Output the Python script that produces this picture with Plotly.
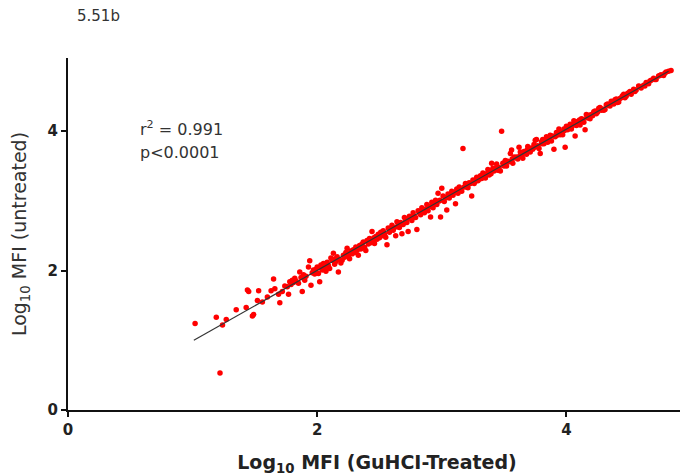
import plotly.graph_objects as go

# ---- data ----
low_x = [1.02, 1.19, 1.22, 1.24, 1.27, 1.35, 1.43, 1.44, 1.45, 1.48, 1.49,
         1.52, 1.53, 1.56, 1.60, 1.63, 1.65, 1.66, 1.69, 1.70, 1.72,
         1.74, 1.76, 1.77, 1.78, 1.79, 1.80, 1.81, 1.82, 1.83, 1.85,
         1.86, 1.87, 1.88, 1.89, 1.90, 1.91, 1.93, 1.94, 1.95, 1.96,
         1.97, 1.98, 1.99]
low_y = [1.24, 1.33, 0.53, 1.22, 1.30, 1.44, 1.47, 1.72, 1.70, 1.35, 1.37,
         1.57, 1.71, 1.55, 1.62, 1.71, 1.88, 1.74, 1.66, 1.54, 1.70,
         1.78, 1.77, 1.66, 1.84, 1.80, 1.86, 1.83, 1.89, 1.85, 1.82,
         1.98, 1.90, 1.70, 1.94, 1.86, 1.92, 2.05, 2.14, 1.79, 1.97,
         2.01, 1.95, 2.02]

mid_x = [2.00, 2.01, 2.02, 2.03, 2.04, 2.05, 2.06, 2.07, 2.08, 2.09,
         2.10, 2.11, 2.12, 2.13, 2.14, 2.15, 2.16, 2.17, 2.18, 2.19,
         2.20, 2.21, 2.22, 2.23, 2.24, 2.25, 2.26, 2.27, 2.28, 2.29,
         2.30, 2.31, 2.32, 2.33, 2.34, 2.35, 2.36, 2.37, 2.38, 2.39,
         2.40, 2.41, 2.42, 2.43, 2.44, 2.45, 2.46, 2.47, 2.48, 2.49,
         2.50, 2.51, 2.52, 2.53, 2.54, 2.55, 2.56, 2.57, 2.58, 2.59,
         2.60, 2.61, 2.62, 2.63, 2.64, 2.65, 2.66, 2.67, 2.68, 2.69,
         2.70, 2.71, 2.72, 2.73, 2.74, 2.75, 2.76, 2.77, 2.78, 2.79,
         2.80, 2.81, 2.82, 2.83, 2.84, 2.85, 2.86, 2.87, 2.88, 2.89,
         2.90, 2.91, 2.92, 2.93, 2.94, 2.95, 2.96, 2.97, 2.98, 2.99,
         3.00, 3.01, 3.02, 3.03, 3.04, 3.05, 3.06, 3.07, 3.08, 3.09,
         3.10, 3.11, 3.12, 3.13, 3.14, 3.15, 3.16, 3.17, 3.18, 3.19,
         3.20, 3.21, 3.22, 3.23, 3.24, 3.25, 3.26, 3.27, 3.28, 3.29,
         3.30,
         2.035, 2.075, 2.145, 2.265, 2.355, 2.455, 2.585, 2.645, 2.715,
         2.765, 2.835, 2.875, 2.925, 2.985, 3.045, 3.135, 3.215, 3.285]
mid_y = [2.05, 1.96, 1.84, 2.08, 2.01, 2.10, 2.05, 1.99, 2.12, 2.07,
         2.03, 2.18, 2.15, 2.25, 2.09, 2.13, 2.20, 1.98, 2.16, 2.11,
         2.15, 2.22, 2.19, 2.26, 2.32, 2.21, 2.17, 2.28, 2.24, 2.30,
         2.26, 2.34, 2.29, 2.22, 2.36, 2.31, 2.38, 2.41, 2.33, 2.29,
         2.43, 2.38, 2.46, 2.40, 2.56, 2.44, 2.39, 2.49, 2.45, 2.52,
         2.47, 2.55, 2.50, 2.57, 2.53, 2.48, 2.37, 2.61, 2.55, 2.60,
         2.65, 2.58, 2.62, 2.50, 2.70, 2.67, 2.62, 2.69, 2.53, 2.66,
         2.76, 2.72, 2.69, 2.56, 2.78, 2.75, 2.72, 2.83, 2.78, 2.76,
         2.59, 2.86, 2.83, 2.80, 2.90, 2.85, 2.83, 2.88, 2.95, 2.86,
         2.92, 2.77, 2.98, 2.90, 2.96, 3.01, 2.95, 3.11, 3.00, 2.77,
         3.18, 3.07, 2.99, 3.05, 2.87, 3.10, 3.04, 3.09, 3.14, 3.08,
         3.12, 2.96, 3.17, 3.11, 3.20, 3.16, 3.14, 3.75, 3.20, 3.25,
         3.20, 3.19, 3.26, 3.25, 3.07, 3.30, 3.25, 3.28, 3.34, 3.29,
         3.31,
         2.03, 2.09, 2.17, 2.25, 2.35, 2.47, 2.60, 2.63, 2.73,
         2.76, 2.84, 2.88, 2.94, 3.01, 3.05, 3.15, 3.25, 3.30]

high_x = [3.31, 3.32, 3.33, 3.34, 3.35, 3.36, 3.37, 3.38, 3.39, 3.40,
          3.41, 3.42, 3.43, 3.44, 3.45, 3.46, 3.47, 3.48, 3.49, 3.50,
          3.51, 3.52, 3.53, 3.54, 3.55, 3.56, 3.57, 3.58, 3.59, 3.60,
          3.61, 3.62, 3.63, 3.64, 3.65, 3.66, 3.67, 3.68, 3.69, 3.70,
          3.71, 3.72, 3.73, 3.74, 3.75, 3.76, 3.77, 3.78, 3.79, 3.80,
          3.81, 3.82, 3.83, 3.84, 3.85, 3.86, 3.87, 3.88, 3.89, 3.90,
          3.91, 3.92, 3.93, 3.94, 3.95, 3.96, 3.97, 3.98, 3.99, 4.00,
          4.01, 4.02, 4.03, 4.04, 4.05, 4.06, 4.07, 4.08, 4.09, 4.10,
          4.11, 4.12, 4.13, 4.14, 4.15, 4.16, 4.17, 4.18, 4.19, 4.20,
          4.22, 4.24, 4.26, 4.28, 4.30, 4.32, 4.34, 4.36, 4.38, 4.40,
          4.42, 4.44, 4.46, 4.48, 4.50, 4.52, 4.54, 4.56, 4.58, 4.60,
          4.62, 4.64, 4.66, 4.68, 4.70, 4.72, 4.74, 4.76, 4.78, 4.80,
          4.82,
          4.21, 4.23, 4.25, 4.27, 4.29, 4.31, 4.33, 4.35, 4.37, 4.39,
          4.41, 4.43, 4.45, 4.47, 4.49, 4.51, 4.55, 4.59, 4.63, 4.67,
          4.71, 4.75, 4.79, 4.84,
          3.335, 3.395, 3.445, 3.505, 3.565, 3.625, 3.685, 3.745, 3.805,
          3.865, 3.925, 3.985, 4.045, 4.105, 4.165]
high_y = [3.36, 3.32, 3.40, 3.36, 3.33, 3.39, 3.45, 3.37, 3.43, 3.54,
          3.47, 3.43, 3.47, 3.53, 3.44, 3.48, 3.43, 4.00, 3.54, 3.50,
          3.58, 3.50, 3.57, 3.56, 3.68, 3.73, 3.54, 3.63, 3.62, 3.63,
          3.60, 3.77, 3.70, 3.66, 3.61, 3.71, 3.69, 3.67, 3.78, 3.74,
          3.70, 3.76, 3.74, 3.81, 3.87, 3.88, 3.79, 3.75, 3.68, 3.85,
          3.88, 3.82, 3.86, 3.92, 3.84, 3.90, 3.94, 3.86, 3.93, 3.74,
          3.92, 3.98, 3.96, 4.03, 3.95, 3.99, 3.95, 4.03, 3.77, 4.07,
          4.02, 4.05, 4.10, 4.03, 4.09, 4.15, 3.93, 4.08, 4.14, 4.13,
          4.09, 4.18, 4.17, 4.13, 4.02, 4.24, 4.19, 4.23, 4.18, 4.24,
          4.28, 4.25, 4.33, 4.30, 4.30, 4.38, 4.37, 4.43, 4.39, 4.46,
          4.42, 4.48, 4.53, 4.50, 4.55, 4.53, 4.60, 4.59, 4.65, 4.62,
          4.66, 4.70, 4.68, 4.73, 4.76, 4.74, 4.79, 4.81, 4.80, 4.85,
          4.86,
          4.22, 4.29, 4.27, 4.34, 4.32, 4.31, 4.39, 4.36, 4.41, 4.45,
          4.41, 4.47, 4.51, 4.48, 4.54, 4.57, 4.57, 4.64, 4.65, 4.72,
          4.74, 4.80, 4.83, 4.87,
          3.39, 3.39, 3.49, 3.55, 3.60, 3.64, 3.73, 3.77, 3.82,
          3.91, 3.94, 4.01, 4.07, 4.16, 4.20]

fit_x = [1.01, 4.82]
fit_y = [1.00, 4.86]

tick_vals = [0, 2, 4]
tick_text = ["0", "2", "4"]

panel_label = "5.51b"
stats_text = ["r<sup>2</sup> = 0.991", "p<0.0001"]

FONT = "DejaVu Sans, Verdana, sans-serif"

all_x = low_x + mid_x + high_x
all_y = low_y + mid_y + high_y

# page has an 8px body margin: figure coords = page coords - 8
W, H = 680, 468
L, T = 60, 50
R_EDGE, B_EDGE = 678, 402
PW, PH = R_EDGE - L, B_EDGE - T

fig = go.Figure()
fig.add_trace(go.Scatter(
    x=all_x, y=all_y, mode="markers",
    marker=dict(color="#FF0000", size=5.5, line=dict(width=0)),
    showlegend=False, hoverinfo="skip"))
fig.add_trace(go.Scatter(
    x=fit_x, y=fit_y, mode="lines",
    line=dict(color="#333333", width=1.2),
    showlegend=False, hoverinfo="skip"))

fig.update_layout(
    width=W, height=H,
    margin=dict(l=L, r=W - R_EDGE, t=T, b=H - B_EDGE),
    paper_bgcolor="white", plot_bgcolor="white",
    font=dict(family=FONT, color="#222222"),
    xaxis=dict(range=[0, 4.96], tickvals=tick_vals, ticktext=tick_text,
               showgrid=False, zeroline=False, showline=True,
               linecolor="#111111", linewidth=2, ticks="outside",
               ticklen=5, tickwidth=2, tickcolor="#111111",
               tickfont=dict(size=15, family=FONT, color="#222222", weight="bold"),
               title=dict(text="Log<sub>10</sub> MFI (GuHCI-Treated)",
                          font=dict(size=19, family=FONT, color="#222222", weight="bold"),
                          standoff=18)),
    yaxis=dict(range=[0, 5.05], tickvals=tick_vals, ticktext=tick_text,
               showgrid=False, zeroline=False, showline=True,
               linecolor="#111111", linewidth=2, ticks="outside",
               ticklen=5, tickwidth=2, tickcolor="#111111",
               tickfont=dict(size=15, family=FONT, color="#222222", weight="bold"),
               title=dict(text="Log<sub>10</sub> MFI (untreated)",
                          font=dict(size=19, family=FONT, color="#333333"),
                          standoff=17)),
    annotations=[
        dict(text=panel_label, xref="paper", yref="paper",
             x=(67 - L) / PW, y=(B_EDGE - 8) / PH, xanchor="left", yanchor="middle",
             showarrow=False, font=dict(size=15, family=FONT, color="#333333")),
        dict(text=stats_text[0], xref="paper", yref="paper",
             x=(130 - L) / PW, y=(B_EDGE - 120) / PH, xanchor="left", yanchor="middle",
             showarrow=False, font=dict(size=16, family=FONT, color="#333333")),
        dict(text=stats_text[1], xref="paper", yref="paper",
             x=(130 - L) / PW, y=(B_EDGE - 144) / PH, xanchor="left", yanchor="middle",
             showarrow=False, font=dict(size=16, family=FONT, color="#333333")),
    ],
)

fig.write_html("out.html")
